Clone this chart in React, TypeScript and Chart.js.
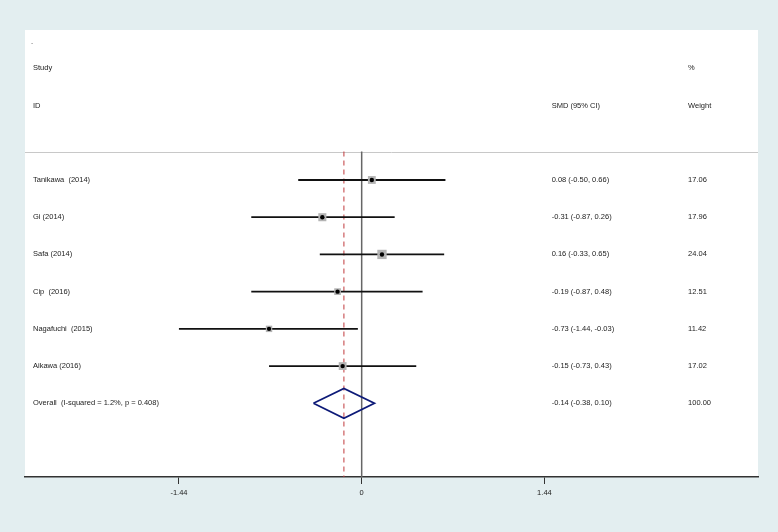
import React, { useEffect, useRef } from "react";
import { Chart, registerables } from "chart.js";

Chart.register(...registerables);

// ---- Data ----
const studies = ["Tanikawa  (2014)", "Gi (2014)", "Safa (2014)", "Cip  (2016)", "Nagafuchi  (2015)", "Aikawa (2016)"];
const smd = [0.08, -0.31, 0.16, -0.19, -0.73, -0.15];
const ciLow = [-0.5, -0.87, -0.33, -0.87, -1.44, -0.73];
const ciHigh = [0.66, 0.26, 0.65, 0.48, -0.03, 0.43];
const weights = [17.06, 17.96, 24.04, 12.51, 11.42, 17.02];
const overallLabel = "Overall  (I-squared = 1.2%, p = 0.408)";
const overallSmd = -0.14;
const overallLow = -0.38;
const overallHigh = 0.1;
const overallWeight = 100.0;
const xTicks = [-1.44, 0, 1.44];
const headerLeft = ["Study", "ID"];
const headerSmd = "SMD (95% CI)";
const headerWeight = ["%", "Weight"];

// ---- Layout constants (scale domain & styling) ----
const X_MIN = -2.653;
const X_MAX = 3.123;
const Y_MIN = -3.03;
const Y_MAX = 8.98;
const SEP_Y = 0.235;
const DIAMOND_HALF = 0.4;
const FONT = "'Liberation Sans', Arial, sans-serif";
const TEXT_COLOR = "#222222";

const fmt = (v: number) => v.toFixed(2);

export default function App() {
  const ref = useRef<HTMLCanvasElement | null>(null);

  useEffect(() => {
    const canvas = ref.current;
    if (!canvas) return;
    const overallRow = studies.length + 1;

    const ciDatasets = studies.map((_, i) => ({
      type: "scatter" as const,
      data: [
        { x: ciLow[i], y: i + 1 },
        { x: ciHigh[i], y: i + 1 },
      ],
      showLine: true,
      borderColor: "#111111",
      borderWidth: 1.8,
      pointRadius: 0,
      order: 3,
    }));

    const textPlugin = {
      id: "forestText",
      beforeDraw(chart: any) {
        const { ctx, chartArea } = chart;
        const w = chart.width;
        const h = chart.height;
        ctx.save();
        ctx.fillStyle = "#e3eef0";
        ctx.fillRect(0, 0, w, h);
        ctx.fillStyle = "#ffffff";
        ctx.fillRect(chartArea.left, chartArea.top, chartArea.right - chartArea.left, chartArea.bottom - chartArea.top);
        const ys = chart.scales.y;
        const sy = Math.round(ys.getPixelForValue(SEP_Y)) + 0.5;
        ctx.strokeStyle = "#c8c8c8";
        ctx.lineWidth = 1;
        ctx.beginPath();
        ctx.moveTo(chartArea.left, sy);
        ctx.lineTo(chartArea.right, sy);
        ctx.stroke();
        ctx.restore();
      },
      afterDraw(chart: any) {
        const { ctx, chartArea } = chart;
        const ys = chart.scales.y;
        const xs = chart.scales.x;
        ctx.save();
        ctx.font = `7.5px ${FONT}`;
        ctx.fillStyle = TEXT_COLOR;
        ctx.textBaseline = "middle";
        ctx.textAlign = "left";
        const labelX = chartArea.left + 8;
        const smdX = xs.getPixelForValue(1.497);
        const wX = xs.getPixelForValue(2.572);
        // header
        ctx.fillText(".", labelX - 2, ys.getPixelForValue(-2.7));
        ctx.fillText(headerLeft[0], labelX, ys.getPixelForValue(-2));
        ctx.fillText(headerLeft[1], labelX, ys.getPixelForValue(-1));
        ctx.fillText(headerSmd, smdX, ys.getPixelForValue(-1));
        ctx.fillText(headerWeight[0], wX, ys.getPixelForValue(-2));
        ctx.fillText(headerWeight[1], wX, ys.getPixelForValue(-1));
        studies.forEach((s, i) => {
          const py = ys.getPixelForValue(i + 1);
          ctx.fillText(s, labelX, py);
          ctx.fillText(`${fmt(smd[i])} (${fmt(ciLow[i])}, ${fmt(ciHigh[i])})`, smdX, py);
          ctx.fillText(fmt(weights[i]), wX, py);
        });
        const oy = ys.getPixelForValue(overallRow);
        ctx.fillText(overallLabel, labelX, oy);
        ctx.fillText(`${fmt(overallSmd)} (${fmt(overallLow)}, ${fmt(overallHigh)})`, smdX, oy);
        ctx.fillText(fmt(overallWeight), wX, oy);
        ctx.restore();
      },
    };

    const chart = new Chart(canvas, {
      type: "scatter",
      data: {
        datasets: [
          {
            data: smd.map((v, i) => ({ x: v, y: i + 1 })),
            pointStyle: "circle",
            pointRadius: 2.2,
            backgroundColor: "#000000",
            borderWidth: 0,
            order: 1,
          },
          {
            data: smd.map((v, i) => ({ x: v, y: i + 1 })),
            pointStyle: "rect",
            pointRadius: (c: any) => (1.9 * Math.sqrt(weights[c.dataIndex])) / Math.SQRT2,
            backgroundColor: "#b4b4b4",
            borderWidth: 0,
            order: 2,
          },
          ...ciDatasets,
          {
            data: [
              { x: overallLow, y: overallRow },
              { x: overallSmd, y: overallRow - DIAMOND_HALF },
              { x: overallHigh, y: overallRow },
              { x: overallSmd, y: overallRow + DIAMOND_HALF },
              { x: overallLow, y: overallRow },
            ],
            showLine: true,
            borderColor: "#0d1a78",
            borderWidth: 1.8,
            pointRadius: 0,
            order: 4,
          },
          {
            data: [
              { x: overallSmd, y: SEP_Y },
              { x: overallSmd, y: Y_MAX },
            ],
            showLine: true,
            borderColor: "#c0393b",
            borderWidth: 1,
            borderDash: [5, 4],
            pointRadius: 0,
            order: 5,
          },
          {
            data: [
              { x: 0, y: SEP_Y },
              { x: 0, y: Y_MAX },
            ],
            showLine: true,
            borderColor: "#666666",
            borderWidth: 1.5,
            pointRadius: 0,
            order: 6,
          },
        ] as any,
      },
      options: {
        animation: false,
        responsive: false,
        devicePixelRatio: 1,
        layout: { padding: { left: 25, right: 20, top: 30, bottom: 31 } },
        plugins: { legend: { display: false }, tooltip: { enabled: false } },
        scales: {
          x: {
            type: "linear",
            min: X_MIN,
            max: X_MAX,
            afterBuildTicks: (scale: any) => {
              scale.ticks = xTicks.map((v) => ({ value: v }));
            },
            ticks: {
              callback: (v: any) => String(v),
              font: { family: FONT, size: 7.5 },
              color: TEXT_COLOR,
              padding: 4,
              maxRotation: 0,
              autoSkip: false,
            },
            grid: {
              display: true,
              drawOnChartArea: false,
              drawTicks: true,
              tickLength: 7,
              color: "#333333",
              lineWidth: 1,
            },
            border: { display: true, color: "#333333", width: 1.5 },
          },
          y: {
            type: "linear",
            display: false,
            reverse: true,
            min: Y_MIN,
            max: Y_MAX,
          },
        },
      },
      plugins: [textPlugin],
    } as any);

    return () => chart.destroy();
  }, []);

  return (
    <div style={{ position: "absolute", left: 0, top: 0, width: 778, height: 532 }}>
      <canvas ref={ref} width={778} height={532} style={{ width: 778, height: 532, display: "block" }} />
    </div>
  );
}
